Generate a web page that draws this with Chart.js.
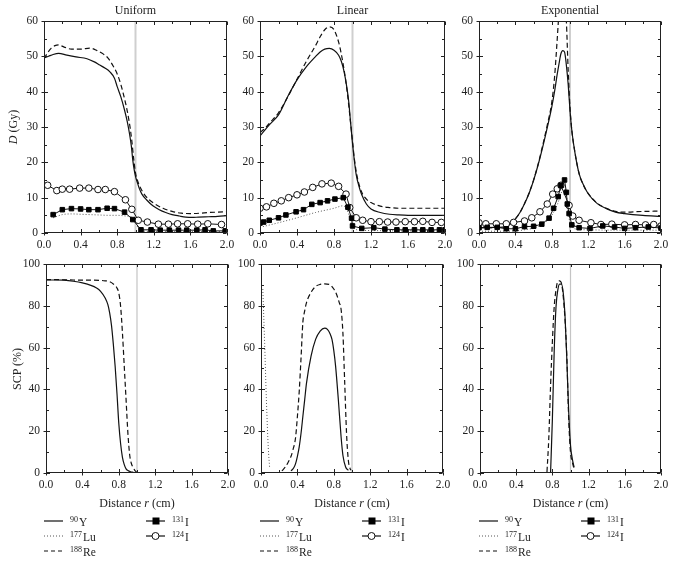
<!DOCTYPE html>
<html><head><meta charset="utf-8">
<script src="https://cdn.jsdelivr.net/npm/chart.js@4.4.1/dist/chart.umd.min.js"></script>
<style>
body{margin:0;background:#fff;width:675px;height:563px;position:relative;overflow:hidden;font-family:'Liberation Serif','DejaVu Serif',serif;color:#222;}
canvas{position:absolute;}
.t{position:absolute;font-size:12px;white-space:nowrap;transform:translate(-50%,-50%);}
.yt{position:absolute;font-size:12px;white-space:nowrap;transform:translate(-50%,-50%) rotate(-90deg);}
.lg{position:absolute;font-size:11.5px;white-space:nowrap;line-height:14px;color:#222;}
.lg .s{font-size:8px;vertical-align:4px;margin-right:1px;color:#222;}
svg{position:absolute;overflow:visible;}
</style>
</head><body>
<script>
// ---------------- DATA ----------------
const panelTitles = ['Uniform', 'Linear', 'Exponential'];
const xTickValues = [0.0, 0.4, 0.8, 1.2, 1.6, 2.0];
const doseTicks = [0, 10, 20, 30, 40, 50, 60];
const scpTicks = [0, 20, 40, 60, 80, 100];
const nuclides = ['90Y', '177Lu', '188Re', '131I', '124I'];

// Uniform – dose
const uniY90x = [0,0.05,0.1,0.16,0.25,0.35,0.47,0.55,0.61,0.67,0.72,0.77,0.8,0.84,0.88,0.91,0.935,0.955,0.97,0.985,1.0,1.02,1.04,1.07,1.12,1.19,1.26,1.33,1.4,1.48,1.55,1.62,1.69,1.8,1.9,2.0];
const uniY90y = [49.5,50.0,50.5,50.8,50.3,49.8,49.3,48.4,47.5,46.6,45.6,43.8,41.4,38.5,34.8,31.5,28,24.5,20.7,18,16,14.3,12.7,11,9.4,7.7,6.6,5.8,5.2,4.8,4.5,4.4,4.5,4.6,4.7,4.9];
const uniRe188x = [0,0.04,0.08,0.12,0.16,0.22,0.3,0.4,0.5,0.58,0.65,0.7,0.75,0.8,0.84,0.88,0.91,0.94,0.96,0.98,1.0,1.02,1.05,1.1,1.15,1.2,1.3,1.4,1.5,1.6,1.7,1.8,1.9,2.0];
const uniRe188y = [49.3,51,52.3,53,53.2,52.6,52,52,52.3,51.6,50.6,49.5,47.5,45,42,38,34.5,30,26,21,17,15,13,10.8,9.4,8.4,7,6.1,5.6,5.5,5.6,5.8,5.9,6.0];
const uniLu177x = [0.1,0.15,0.2,0.3,0.4,0.5,0.6,0.7,0.8,0.9,0.96,1.0,1.04,1.1,1.3,1.5,1.7,1.9,2.0];
const uniLu177y = [4.3,4.8,5.2,5.4,5.3,5.2,5.1,5.0,5.0,4.8,4.5,3.0,1.0,0.5,0.4,0.4,0.4,0.4,0.4];
const uniI131x = [0.1,0.2,0.3,0.4,0.49,0.59,0.69,0.77,0.88,0.97,1.06,1.17,1.27,1.37,1.47,1.56,1.67,1.76,1.85,1.98];
const uniI131y = [5.2,6.6,6.9,6.8,6.6,6.6,7.0,6.9,5.9,3.8,0.9,0.9,0.8,0.8,0.8,0.8,0.8,0.9,0.6,0.6];
const uniI124x = [0.04,0.14,0.2,0.28,0.39,0.49,0.59,0.67,0.77,0.89,0.96,1.03,1.13,1.25,1.36,1.46,1.57,1.68,1.79,1.94];
const uniI124y = [13.5,12.0,12.4,12.4,12.7,12.7,12.3,12.3,11.7,9.4,6.7,3.6,3.1,2.5,2.5,2.6,2.6,2.5,2.6,2.4];

// Linear – dose
const linY90x = [0,0.05,0.1,0.2,0.3,0.4,0.5,0.6,0.65,0.7,0.75,0.8,0.85,0.88,0.91,0.94,0.96,0.98,1.0,1.02,1.04,1.07,1.1,1.15,1.2,1.3,1.4,1.5,1.6,1.8,2.0];
const linY90y = [27.5,29,30.6,33.4,38.6,43.3,47,49.9,51.2,52,52.2,51.7,50.3,48.5,45.5,41,37,31,25.4,20.5,16.5,13.2,10.8,8.2,6.8,5.8,5.3,5.1,5.0,5.0,5.0];
const linRe188x = [0,0.05,0.1,0.2,0.3,0.4,0.5,0.6,0.65,0.7,0.75,0.8,0.85,0.88,0.91,0.94,0.96,0.98,1.0,1.02,1.05,1.1,1.15,1.2,1.3,1.4,1.5,1.6,1.8,2.0];
const linRe188y = [28.5,29.5,31,34,38.5,43.5,48.5,53,55.5,57.5,58.3,57.5,54,50.5,46,40.5,36,31,26,21,16,11.5,9.6,8.6,7.6,7.2,7.0,7.0,7.0,7.0];
const linLu177x = [0,0.2,0.4,0.6,0.8,0.9,0.95,1.0,1.05,1.2,1.5,2.0];
const linLu177y = [1.6,2.9,4.3,5.8,7.0,7.7,6.0,2.0,0.9,0.7,0.6,0.6];
const linI131x = [0,0.04,0.1,0.2,0.28,0.39,0.47,0.56,0.65,0.73,0.81,0.9,0.95,0.99,1.0,1.1,1.23,1.35,1.48,1.57,1.67,1.76,1.85,1.94,2.0];
const linI131y = [2.8,3.1,3.6,4.3,5.1,6.0,6.6,8.1,8.6,9.1,9.6,10.0,7.3,4.2,2.0,1.3,1.5,1.1,0.9,0.9,0.9,0.9,0.9,0.9,0.9];
const linI124x = [0,0.07,0.15,0.23,0.31,0.4,0.48,0.57,0.67,0.77,0.85,0.93,0.97,1.04,1.11,1.2,1.29,1.38,1.47,1.57,1.67,1.76,1.86,1.96];
const linI124y = [7.0,7.4,8.4,9.1,10.0,10.8,11.6,12.9,13.9,14.1,13.2,11.0,7.2,4.3,3.6,3.2,3.2,3.1,3.1,3.2,3.2,3.3,3.0,3.0];

// Exponential – dose
const expY90x = [0,0.1,0.2,0.3,0.35,0.4,0.45,0.5,0.55,0.6,0.65,0.7,0.75,0.8,0.83,0.86,0.88,0.9,0.92,0.94,0.96,0.98,1.0,1.02,1.05,1.1,1.15,1.2,1.3,1.4,1.5,1.6,1.8,2.0];
const expY90y = [1.5,1.5,1.6,1.8,2.7,4.0,5.8,8.3,11.2,14.9,19.3,24.3,29.8,35.7,40,45,48,50.7,51.6,51.2,47.5,42,34.7,29,23.4,16.8,13.5,11.1,8.3,6.9,5.9,5.5,5.0,4.7];
const expRe188x = [0,0.1,0.2,0.3,0.35,0.4,0.45,0.5,0.55,0.6,0.65,0.7,0.75,0.8,0.83,0.86,0.88,0.9,0.93,0.96,0.98,1.0,1.02,1.05,1.1,1.15,1.2,1.3,1.4,1.5,1.6,1.8,2.0];
const expRe188y = [1.5,1.5,1.6,1.8,2.7,4.0,5.8,8.3,11.3,15.0,19.5,24.8,30.5,37,44,55,63,70,72,60,46,35.5,29,23.5,16.8,13.4,11.2,8.4,7.0,6.1,5.9,6.1,6.2];
const expLu177x = [0,0.2,0.4,0.5,0.6,0.7,0.8,0.86,0.9,0.93,0.96,0.98,1.0,1.05,1.2,1.5,2.0];
const expLu177y = [0.5,0.5,0.6,0.9,1.4,2.5,5,8,11,13,11,6,3,1.2,0.9,0.8,0.8];
const expI131x = [0,0.09,0.2,0.3,0.4,0.5,0.6,0.69,0.77,0.82,0.87,0.9,0.94,0.96,0.97,0.99,1.02,1.1,1.22,1.36,1.49,1.6,1.72,1.86,2.0];
const expI131y = [1.5,1.6,1.6,1.2,1.2,1.8,1.9,2.5,4.2,7.0,10.3,13.5,15.0,11.5,8.2,5.5,2.3,1.5,1.3,2.0,1.7,1.3,1.5,1.7,1.4];
const expI124x = [0,0.075,0.19,0.3,0.38,0.5,0.58,0.67,0.75,0.81,0.86,0.9,0.99,1.03,1.1,1.23,1.34,1.46,1.6,1.72,1.83,1.92,2.0];
const expI124y = [2.9,2.6,2.6,2.6,3.0,3.4,4.3,6.0,8.2,11.0,12.5,13.5,7.8,4.8,3.6,2.9,2.4,2.5,2.3,2.4,2.3,2.4,2.0];

// SCP (%)
const scpUniY90x = [0,0.1,0.2,0.3,0.4,0.5,0.55,0.6,0.65,0.68,0.7,0.72,0.74,0.76,0.78,0.8,0.82,0.84,0.86,0.88,0.9,0.93,0.96];
const scpUniY90y = [92.3,92.3,92.2,91.7,90.9,89.6,88.6,86.9,83.7,80.5,76.5,70.5,61.5,50.9,38,23.7,14,7.5,4,2,1.2,0.6,0.3];
const scpUniRe188x = [0,0.1,0.2,0.3,0.4,0.5,0.6,0.65,0.7,0.75,0.78,0.8,0.82,0.84,0.86,0.88,0.9,0.92,0.94,0.96,0.98,1.0];
const scpUniRe188y = [92.5,92.5,92.4,92.3,92.2,92.2,92.1,91.9,91.5,90,88.5,86,79.7,67,51,35,19,8.5,4.3,2.5,1,0.3];
const scpLinLu177x = [0.02,0.04,0.06,0.08,0.095];
const scpLinLu177y = [88,62,34,12,2.5];
const scpLinRe188x = [0.23,0.27,0.3,0.33,0.35,0.38,0.4,0.42,0.44,0.46,0.48,0.5,0.55,0.6,0.65,0.7,0.75,0.8,0.83,0.86,0.88,0.9,0.92,0.94,0.96,0.98,0.99];
const scpLinRe188y = [1,3,5.3,8,10.9,17,27,39,55,72,77.5,81.5,86.4,89.2,90.2,90.4,90.2,88,85.5,81.5,78.3,67,43,19,6,2,1.3];
const scpLinY90x = [0.33,0.36,0.38,0.4,0.42,0.44,0.46,0.48,0.5,0.55,0.6,0.65,0.7,0.73,0.76,0.78,0.8,0.82,0.85,0.88,0.9,0.93,0.96];
const scpLinY90y = [1,2.5,4.5,8,12.5,19,27,35,43,55.9,63.9,67.9,69.3,68.7,66.5,63.9,58.5,51,35,17.3,8.5,2.9,1.3];
const scpExpRe188x = [0.74,0.76,0.78,0.8,0.82,0.84,0.86,0.88,0.9,0.92,0.94,0.96,0.98,1.0,1.02,1.04];
const scpExpRe188y = [0.5,16.5,42,63,79.5,87.6,91.6,91.9,90.8,84.3,73,55,26,10,5.2,2];
const scpExpY90x = [0.78,0.8,0.82,0.84,0.86,0.88,0.9,0.92,0.94,0.96,0.98,1.0,1.02,1.04];
const scpExpY90y = [0.5,26,58.5,79.5,87.6,90.3,90.3,86,74.6,53.6,29.4,13.2,6.8,2.7];

// ---------------- STYLES / LAYOUT ----------------
const FONT = "'Liberation Serif','DejaVu Serif',serif";
Chart.defaults.font.family = FONT;
Chart.defaults.font.size = 11.5;
Chart.defaults.color = '#222';

const YW = 30, XH = 22, TP = 8, RP = 14;
const plots = [
  {L:44, R:227, T:21, B:233}, {L:260, R:445, T:21, B:233}, {L:479, R:661, T:21, B:233},
  {L:46, R:228, T:264, B:473}, {L:261, R:443, T:264, B:473}, {L:480, R:661, T:264, B:473}
];

const styleOf = {
  '90Y':  {borderColor:'#111', borderWidth:1.2, pointRadius:0, tension:0.4, cubicInterpolationMode:'monotone'},
  '177Lu':{borderColor:'#555', borderWidth:1, borderDash:[1,2], pointRadius:0, tension:0.4, cubicInterpolationMode:'monotone'},
  '188Re':{borderColor:'#111', borderWidth:1.2, borderDash:[5,3], pointRadius:0, tension:0.4, cubicInterpolationMode:'monotone'},
  '131I': {borderColor:'#111', borderWidth:1, pointStyle:'rect', pointRadius:3.2, pointBackgroundColor:'#000', pointBorderColor:'#000', pointBorderWidth:1, tension:0},
  '124I': {borderColor:'#111', borderWidth:1, pointStyle:'circle', pointRadius:3.3, pointBackgroundColor:'#fff', pointBorderColor:'#111', pointBorderWidth:1, tension:0}
};
const drawOrder = {'131I':0,'124I':0,'90Y':2,'177Lu':3,'188Re':1};

function ds(name, xs, ys){
  return Object.assign({label:name, data: xs.map((x,i)=>({x:x, y:ys[i]})), showLine:true, order:drawOrder[name], fill:false}, styleOf[name]);
}

const framePlugin = {
  id:'frame',
  beforeDatasetsDraw(chart, args, o){
    const {ctx, chartArea:a, scales:{x}} = chart;
    const gx = x.getPixelForValue(1.0);
    ctx.save();
    ctx.strokeStyle = o.refColor; ctx.lineWidth = o.refWidth;
    ctx.beginPath(); ctx.moveTo(gx, a.top); ctx.lineTo(gx, a.bottom); ctx.stroke();
    ctx.restore();
  },
  afterDatasetsDraw(chart, args, o){
    const {ctx, chartArea:a, scales:{x, y}} = chart;
    const l = Math.round(a.left)+0.5, r = Math.round(a.right)-0.5, t = Math.round(a.top)+0.5, b = Math.round(a.bottom)-0.5;
    ctx.save();
    ctx.strokeStyle = '#222'; ctx.lineWidth = 1;
    ctx.strokeRect(l, t, r-l, b-t);
    ctx.beginPath();
    for (let i = 0; ; i++){
      const v = x.min + i*o.xMinor; if (v > x.max + 1e-9) break;
      const px = Math.round(x.getPixelForValue(v))+0.5;
      const major = i % 2 === 0;
      const len = major ? 3.5 : 2.5;
      ctx.moveTo(px, b); ctx.lineTo(px, b - len);
      ctx.moveTo(px, t); ctx.lineTo(px, t + len);
      if (major){ ctx.moveTo(px, b); ctx.lineTo(px, b + 3); }
    }
    for (let i = 0; ; i++){
      const v = y.min + i*o.yMinor; if (v > y.max + 1e-9) break;
      const py = Math.round(y.getPixelForValue(v))+0.5;
      const major = i % 2 === 0;
      const len = major ? 3.5 : 2.5;
      ctx.moveTo(l, py); ctx.lineTo(l + len, py);
      ctx.moveTo(r, py); ctx.lineTo(r - len, py);
      if (major){ ctx.moveTo(l, py); ctx.lineTo(l - 3, py); }
    }
    ctx.stroke();
    ctx.restore();
  }
};

function makeChart(idx, datasets, yTicks, refColor, refWidth){
  const p = plots[idx];
  const c = document.createElement('canvas');
  let w = YW + (p.R - p.L) + RP, h = TP + (p.B - p.T) + XH;
  c.width = w; c.height = h;
  c.style.left = (p.L - YW) + 'px'; c.style.top = (p.T - TP) + 'px';
  c.style.width = w + 'px'; c.style.height = h + 'px';
  document.body.appendChild(c);
  const yStep = yTicks[1] - yTicks[0];
  const chart = new Chart(c, {
    type:'scatter',
    data:{datasets},
    options:{
      responsive:false, maintainAspectRatio:false, animation:false, events:[], devicePixelRatio:1,
      layout:{padding:{left:0, right:RP, top:TP, bottom:0}, autoPadding:false},
      plugins:{legend:{display:false}, tooltip:{enabled:false},
        frame:{refColor, refWidth, xMinor:0.2, yMinor:yStep/2}},
      scales:{
        x:{type:'linear', min:xTickValues[0], max:xTickValues[xTickValues.length-1],
           grid:{display:false, drawTicks:false}, border:{display:false},
           afterBuildTicks:(s)=>{ s.ticks = xTickValues.map(v=>({value:v})); },
           ticks:{padding:5, maxRotation:0, autoSkip:false, callback:(v)=>Number(v).toFixed(1)},
           afterFit:(s)=>{ s.height = XH; }},
        y:{type:'linear', min:yTicks[0], max:yTicks[yTicks.length-1],
           grid:{display:false, drawTicks:false}, border:{display:false},
           afterBuildTicks:(s)=>{ s.ticks = yTicks.map(v=>({value:v})); },
           ticks:{padding:6, autoSkip:false},
           afterFit:(s)=>{ s.width = YW; }}
      }
    },
    plugins:[framePlugin]
  });
  // align the library's chart area with the target plot box
  for (let k = 0; k < 3; k++){
    const a = chart.chartArea;
    const dw = (p.R - p.L) - (a.right - a.left);
    const dh = (p.B - p.T) - (a.bottom - a.top);
    if (Math.abs(dw) < 0.5 && Math.abs(dh) < 0.5) break;
    w = Math.round(w + dw); h = Math.round(h + dh);
    chart.resize(w, h);
  }
  const a = chart.chartArea;
  c.style.left = (p.L - a.left) + 'px'; c.style.top = (p.T - a.top) + 'px';
  return chart;
}

const topRef = ['#cfcfcf', 2], botRef = ['#c4c4c4', 1.2];
makeChart(0, [ds('131I',uniI131x,uniI131y), ds('124I',uniI124x,uniI124y), ds('90Y',uniY90x,uniY90y), ds('177Lu',uniLu177x,uniLu177y), ds('188Re',uniRe188x,uniRe188y)], doseTicks, ...topRef);
makeChart(1, [ds('131I',linI131x,linI131y), ds('124I',linI124x,linI124y), ds('90Y',linY90x,linY90y), ds('177Lu',linLu177x,linLu177y), ds('188Re',linRe188x,linRe188y)], doseTicks, ...topRef);
makeChart(2, [ds('131I',expI131x,expI131y), ds('124I',expI124x,expI124y), ds('90Y',expY90x,expY90y), ds('177Lu',expLu177x,expLu177y), ds('188Re',expRe188x,expRe188y)], doseTicks, ...topRef);
makeChart(3, [ds('90Y',scpUniY90x,scpUniY90y), ds('188Re',scpUniRe188x,scpUniRe188y)], scpTicks, ...botRef);
makeChart(4, [ds('90Y',scpLinY90x,scpLinY90y), ds('177Lu',scpLinLu177x,scpLinLu177y), ds('188Re',scpLinRe188x,scpLinRe188y)], scpTicks, ...botRef);
makeChart(5, [ds('90Y',scpExpY90x,scpExpY90y), ds('188Re',scpExpRe188x,scpExpRe188y)], scpTicks, ...botRef);

// ---------------- TEXT ----------------
function addDiv(cls, html, x, y){
  const d = document.createElement('div'); d.className = cls; d.innerHTML = html;
  d.style.left = x + 'px'; d.style.top = y + 'px'; document.body.appendChild(d); return d;
}
for (let i = 0; i < 3; i++){
  const p = plots[i];
  addDiv('t', panelTitles[i], (p.L + p.R)/2, 10);
  const q = plots[i+3];
  addDiv('t', 'Distance <i>r</i> (cm)', (q.L + q.R)/2, 503);
}
addDiv('yt', '<i>D</i> (Gy)', 13, 127);
addDiv('yt', 'SCP (%)', 17, 369);

function lab(n){
  const m = n.match(/^(\d+)(\D+)$/);
  return '<span class="s">' + m[1] + '</span>' + m[2];
}
const rowY = [521, 536, 551];
const SVGNS = 'http://www.w3.org/2000/svg';
function sample(kind, x, y){
  const s = document.createElementNS(SVGNS, 'svg');
  s.setAttribute('width', 20); s.setAttribute('height', 10);
  s.style.left = x + 'px'; s.style.top = (y - 5) + 'px';
  const ln = document.createElementNS(SVGNS, 'line');
  ln.setAttribute('x1', 0); ln.setAttribute('x2', 19); ln.setAttribute('y1', 5); ln.setAttribute('y2', 5);
  ln.setAttribute('stroke', kind === '177Lu' ? '#555' : '#111');
  ln.setAttribute('stroke-width', kind === '177Lu' ? 1 : 1.2);
  if (kind === '177Lu') ln.setAttribute('stroke-dasharray', '1 2');
  if (kind === '188Re') ln.setAttribute('stroke-dasharray', '4 3');
  s.appendChild(ln);
  if (kind === '131I'){
    const r = document.createElementNS(SVGNS, 'rect');
    r.setAttribute('x', 6.5); r.setAttribute('y', 1.5); r.setAttribute('width', 7); r.setAttribute('height', 7); r.setAttribute('fill', '#000');
    s.appendChild(r);
  } else if (kind === '124I'){
    const c = document.createElementNS(SVGNS, 'circle');
    c.setAttribute('cx', 9.5); c.setAttribute('cy', 5); c.setAttribute('r', 3.5); c.setAttribute('fill', '#fff'); c.setAttribute('stroke', '#111');
    s.appendChild(c);
  }
  document.body.appendChild(s);
}
for (let i = 0; i < 3; i++){
  const L = plots[i].L;
  ['90Y','177Lu','188Re'].forEach((n, k) => { sample(n, L + 0, rowY[k]); addDiv('lg', lab(n), L + 26, rowY[k] - 8); });
  ['131I','124I'].forEach((n, k) => { sample(n, L + 102, rowY[k]); addDiv('lg', lab(n), L + 128, rowY[k] - 8); });
}
</script>
</body></html>
